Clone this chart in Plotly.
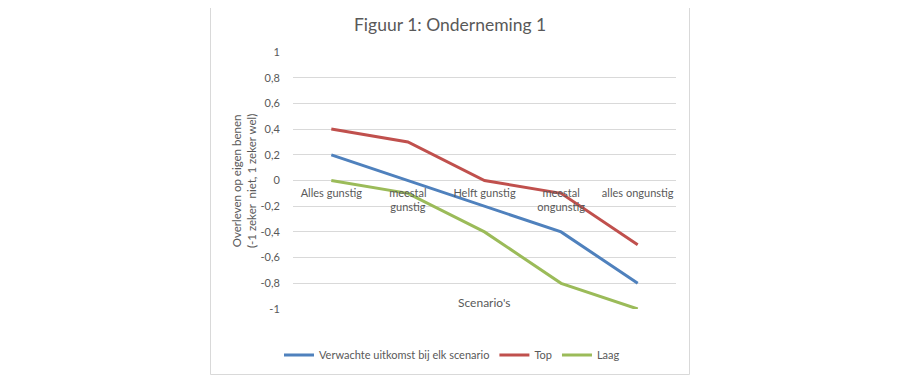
import plotly.graph_objects as go

categories = ["Alles gunstig", "meestal<br>gunstig", "Helft gunstig", "meestal<br>ongunstig", "alles ongunstig"]
verwacht = [0.2, 0.0, -0.2, -0.4, -0.8]
top = [0.4, 0.3, 0.0, -0.1, -0.5]
laag = [0.0, -0.1, -0.4, -0.8, -1.0]
y_tickvals = [1, 0.8, 0.6, 0.4, 0.2, 0, -0.2, -0.4, -0.6, -0.8, -1]
y_ticktext = ["1", "0,8", "0,6", "0,4", "0,2", "0", "-0,2", "-0,4", "-0,6", "-0,8", "-1"]

FONT = "Lato"
GREY = "#595959"

W, H = 900, 382
OFF = 8  # page body margin
L, R, T, B = 293 - OFF, 676 - OFF, 52 - OFF, 309 - OFF
pw, ph = R - L, B - T

def px(x):
    return (x - OFF - L) / pw

def py(y):
    return (B - (y - OFF)) / ph

fig = go.Figure()
fig.add_trace(go.Scatter(x=categories, y=verwacht, mode="lines", name="Verwachte uitkomst bij elk scenario",
                         line=dict(color="#4F81BD", width=3)))
fig.add_trace(go.Scatter(x=categories, y=top, mode="lines", name="Top",
                         line=dict(color="#C0504D", width=3)))
fig.add_trace(go.Scatter(x=categories, y=laag, mode="lines", name="Laag",
                         line=dict(color="#9BBB59", width=3)))

fig.update_layout(
    width=W, height=H,
    margin=dict(l=L, r=W - R, t=T, b=H - B, pad=0),
    paper_bgcolor="white", plot_bgcolor="white",
    font=dict(family=FONT, color=GREY, size=11),
    showlegend=True,
    legend=dict(orientation="h", x=px(452), xanchor="center", y=py(355), yanchor="middle",
                font=dict(size=11, color=GREY), itemwidth=30, bgcolor="rgba(0,0,0,0)"),
    xaxis=dict(type="category", range=[-0.5, 4.5], anchor="free", position=0.5,
               showgrid=False, showline=False, zeroline=False,
               ticks="outside", ticklen=2, tickcolor="rgba(0,0,0,0)",
               tickfont=dict(size=11, color=GREY), fixedrange=True),
    yaxis=dict(range=[-1, 1], tickvals=y_tickvals, ticktext=y_ticktext,
               showgrid=True, gridcolor="#D9D9D9", gridwidth=1,
               zeroline=True, zerolinecolor="#D9D9D9", zerolinewidth=1,
               showline=False, ticks="outside", ticklen=10, tickcolor="rgba(0,0,0,0)",
               tickfont=dict(size=11, color=GREY), fixedrange=True),
    shapes=[dict(type="rect", xref="paper", yref="paper",
                 x0=px(210.5), x1=px(689.5), y0=py(374.5), y1=py(2.5),
                 line=dict(color="#D9D9D9", width=1), fillcolor="rgba(0,0,0,0)", layer="below")],
    annotations=[
        dict(text="Figuur 1: Onderneming 1", xref="paper", yref="paper", x=px(450), y=py(25),
             xanchor="center", yanchor="middle", showarrow=False,
             font=dict(size=17.5, color=GREY, family=FONT)),
        dict(text="Scenario's", xref="paper", yref="paper", x=px(484), y=py(302),
             xanchor="center", yanchor="middle", showarrow=False,
             font=dict(size=12, color=GREY, family=FONT)),
        dict(text="Overleven op eigen benen<br>(-1 zeker  niet, 1 zeker wel)", xref="paper", yref="paper",
             x=px(244), y=py(181), xanchor="center", yanchor="middle", showarrow=False, textangle=-90,
             font=dict(size=11.5, color=GREY, family=FONT)),
    ],
)

fig.write_html("out.html")
